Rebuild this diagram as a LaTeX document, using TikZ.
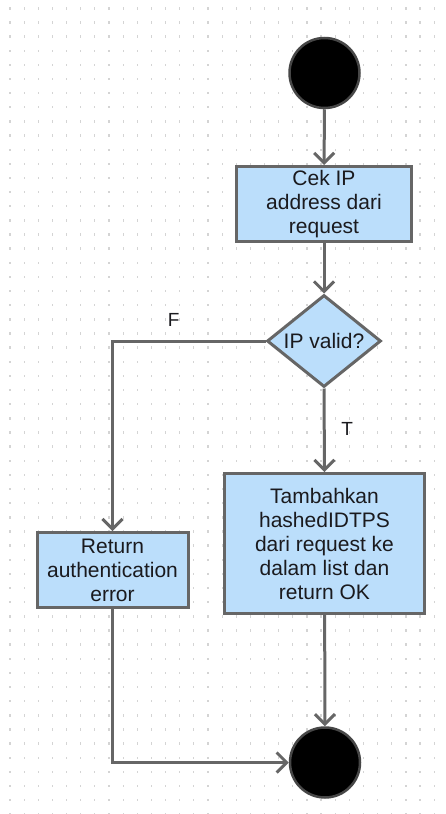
\documentclass[tikz,border=0pt]{standalone}
\usepackage{fontspec}
\setmainfont{Liberation Sans}
\usetikzlibrary{shapes.geometric,arrows.meta}
\definecolor{flowline}{RGB}{102,102,102}
\definecolor{boxfill}{RGB}{187,222,251}
\definecolor{griddot}{RGB}{212,212,212}
\definecolor{inktext}{RGB}{26,26,30}

\begin{document}
\begin{tikzpicture}[x=1pt,y=-1pt,
  every node/.style={font=\fontsize{21}{24}\selectfont, text=inktext},
  action/.style={rectangle, draw=flowline, line width=3pt, fill=boxfill,
    align=center, inner sep=0pt},
  decision/.style={diamond, draw=flowline, line width=3pt, fill=boxfill,
    inner sep=0pt, minimum width=114pt, minimum height=92pt},
  terminal/.style={circle, fill=black, draw=black!72, line width=2.5pt,
    minimum size=70pt, inner sep=0pt},
  flow/.style={draw=flowline, line width=3pt,
    -{Straight Barb[length=10pt,width=20pt]}},
  guard/.style={font=\fontsize{19}{22}\selectfont, inner sep=0pt}
]
% canvas and dotted grid
\fill[white] (0,0) rectangle (445,814);
\useasboundingbox (0,0) rectangle (445,814);
\foreach \i in {0,...,30}{
  \foreach \j in {0,...,57}{
    \fill[griddot] ({10+14.14*\i-0.6},{8.3+14.14*\j-1.2}) rectangle ++(1.2,2.4);
  }
}

% activity nodes
\node[terminal] (start) at (324.5,73) {};
\node[action, minimum width=175pt, minimum height=75pt] (check) at (324,204)
  {Cek IP\\address dari\\request};
\node[decision] (valid) at (324,341) {\makebox[0pt]{IP valid?}};
\node[action, minimum width=200pt, minimum height=140pt] (add) at (324.5,543.5)
  {Tambahkan\\hashedIDTPS\\dari request ke\\dalam list dan\\return OK};
\node[action, minimum width=151pt, minimum height=75pt] (reject) at (112.5,570)
  {Return\\authentication\\error};
\node[terminal] (stop) at (325,762.5) {};

% control flow
\draw[flow] (start) -- (check);
\draw[flow] (check) -- (valid);
\draw[flow] (valid.west) -| node[guard, pos=0.3, yshift=21pt] (fguard) {F} (reject.north);
\draw[flow] (valid.south) -- node[guard, pos=0.48, xshift=23pt] (tguard) {T} (add.north);
\draw[flow] (add) -- (stop);
\draw[flow] (reject.south) |- (stop.west);
\end{tikzpicture}
\end{document}
